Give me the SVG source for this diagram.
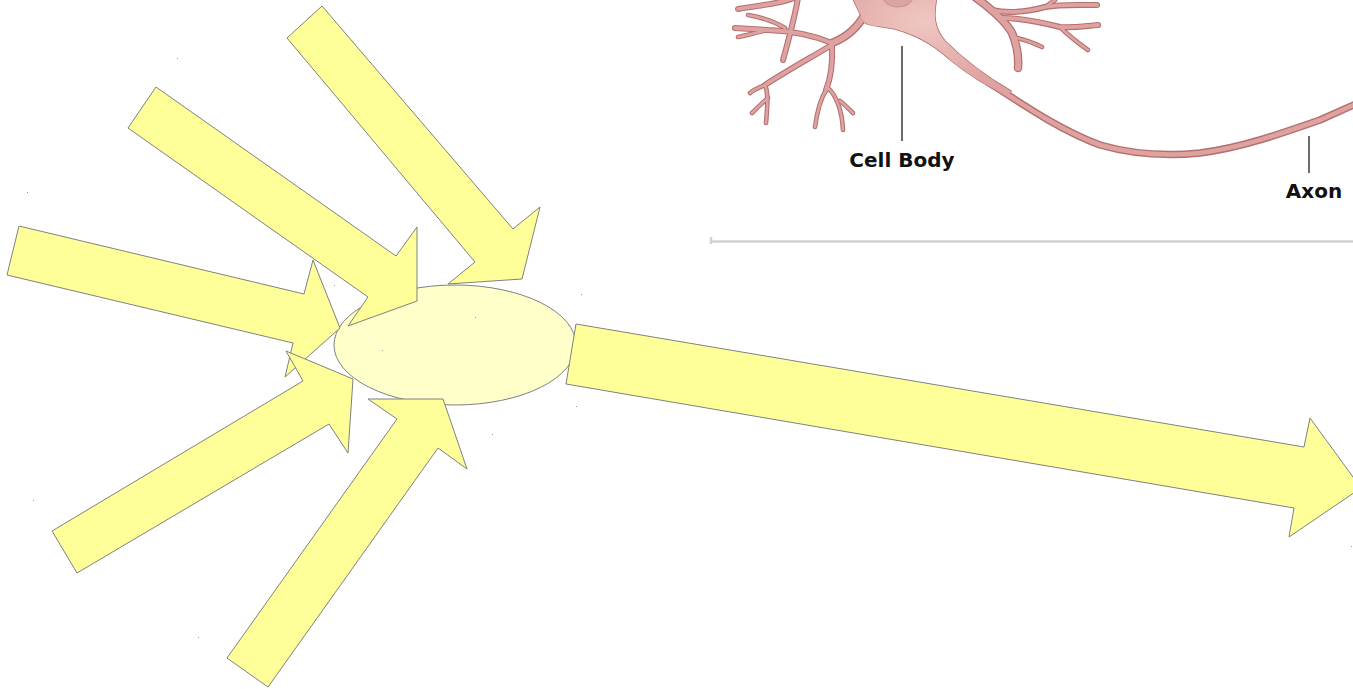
<svg xmlns="http://www.w3.org/2000/svg" xmlns:xlink="http://www.w3.org/1999/xlink" width="1353" height="689" viewBox="0 0 1353 689">
  <style>
    .arrow { fill: #ffff99; stroke: #808080; stroke-width: 1; stroke-linejoin: miter; }
    .soma { fill: #ffffc9; stroke: #808080; stroke-width: 1; }
    .speck { fill: #9a9a9a; }
    .lbl { font-family: "DejaVu Sans", Verdana, sans-serif; font-weight: bold; font-size: 20px; fill: #111; text-anchor: middle; }
    .leader { stroke: #6b6b6b; stroke-width: 2; }
    .rule { stroke: #d2d2d2; stroke-width: 2.5; fill: none; }
    .nrn { fill: none; stroke-linecap: round; stroke-linejoin: round; }
  </style>
  <defs>
    <radialGradient id="somaPink" cx="0.45" cy="0.25" r="0.7">
      <stop offset="0" stop-color="#efc7c3"/>
      <stop offset="1" stop-color="#dea2a0"/>
    </radialGradient>
    <!-- neuron branch geometry, stroked twice (outline + fill) -->
    <g id="trunks">
      <path d="M866,12 C858,28 845,38 832,43"/>
      <path d="M975,-3 C990,8 1005,20 1012,33 C1017,45 1019,55 1018,68"/>
    </g>
    <g id="branches">
      <path d="M832,43 C815,36 795,31 768,30 L735,28"/>
      <path d="M798,-2 C795,15 790,35 783,60"/>
      <path d="M794,-2 C780,4 760,5 738,9"/>
      <path d="M832,45 C833,65 830,80 826,90"/>
      <path d="M830,46 C810,58 785,72 765,85"/>
      <path d="M992,10 C1010,14 1030,11 1045,7 C1060,4 1080,5 1097,5"/>
      <path d="M1003,18 C1020,18 1040,22 1060,27 C1075,28 1085,26 1098,25"/>
    </g>
    <g id="twigs">
      <path d="M768,30 C758,32 748,35 738,37"/>
      <path d="M785,28 C775,22 760,17 748,15"/>
      <path d="M826,90 C820,100 817,112 815,127"/>
      <path d="M828,88 C836,95 842,110 843,130"/>
      <path d="M840,101 C845,105 849,109 853,113"/>
      <path d="M765,85 C758,88 753,90 750,93"/>
      <path d="M765,85 C768,92 768,100 766,123"/>
      <path d="M768,98 C762,103 757,108 752,113"/>
      <path d="M1045,7 L1055,0"/>
      <path d="M1060,27 C1068,35 1078,43 1088,50"/>
      <path d="M1013,37 C1022,39 1032,42 1042,47"/>
    </g>
    <path id="axonLine" d="M985,80 C1025,106 1060,130 1100,145 C1135,155 1170,156 1200,153 C1240,148 1280,134 1320,120 L1358,103"/>
    <!-- soma with a tail that narrows into the axon -->
    <path id="somaShape" d="M852,-3 L937,-3 C933,15 934,28 945,41 C960,56 985,76 1011,91 L1008,95.5 C985,86 965,72 948,58 C935,46 920,36 895,29 C880,26 868,26 864,22 C860,14 856,5 852,-3 Z"/>
  </defs>

  <rect width="1353" height="689" fill="#ffffff"/>

  <!-- neuron illustration -->
  <g id="neuron">
    <use xlink:href="#trunks" class="nrn" stroke="#b4706f" stroke-width="8.5"/>
    <use xlink:href="#branches" class="nrn" stroke="#b4706f" stroke-width="6"/>
    <use xlink:href="#twigs" class="nrn" stroke="#b4706f" stroke-width="4.6"/>
    <use xlink:href="#axonLine" class="nrn" stroke="#b4706f" stroke-width="7.5"/>
    <use xlink:href="#somaShape" fill="url(#somaPink)" stroke="#b4706f" stroke-width="1.5"/>
    <use xlink:href="#trunks" class="nrn" stroke="#dea2a1" stroke-width="6"/>
    <use xlink:href="#branches" class="nrn" stroke="#dea2a1" stroke-width="3.8"/>
    <use xlink:href="#twigs" class="nrn" stroke="#dea2a1" stroke-width="2.5"/>
    <use xlink:href="#axonLine" class="nrn" stroke="#dea2a1" stroke-width="4.6"/>
    <use xlink:href="#somaShape" fill="url(#somaPink)"/>
    <ellipse cx="898" cy="-3" rx="15" ry="10" fill="#d9a5a2" stroke="#c99190" stroke-width="1"/>
  </g>

  <g id="label-cell-body">
    <line class="leader" x1="902" y1="46" x2="902" y2="141"/>
    <text class="lbl" x="902" y="167">Cell Body</text>
  </g>
  <g id="label-axon">
    <line class="leader" x1="1309" y1="136" x2="1309" y2="173"/>
    <text class="lbl" x="1314" y="198">Axon</text>
  </g>
  <path class="rule" d="M711,237 L711,244 M711,241.5 L1353,241.5"/>

  <!-- cell body -->
  <g id="soma">
    <ellipse class="soma" cx="455" cy="345" rx="121" ry="60"/>
  </g>

  <!-- incoming and outgoing signal arrows -->
  <g id="connectors">
    <polygon id="in-1" class="arrow" points="322,6 513,229 540,207 522,279 448,284 475,262 287,38"/>
    <polygon id="in-2" class="arrow" points="156,87 396,256 417,227 417,301 348,326 368,297 128,128"/>
    <polygon id="in-3" class="arrow" points="19,226 304,294 313,260 340,328 285,377 293,343 7,275"/>
    <polygon id="in-4" class="arrow" points="52,531 303,381 286,351 353,379 348,453 329,424 77,573"/>
    <polygon id="in-5" class="arrow" points="227,658 397,419 368,399 443,399 467,469 438,448 268,687"/>
    <polygon id="out-1" class="arrow" points="576,324 1304,447 1310,418 1361,488 1289,537 1294,508 566,384"/>
  </g>

  <!-- stray anchor specks -->
  <g id="specks">
    <rect class="speck" x="177" y="58" width="1" height="1"/>
    <rect class="speck" x="27" y="192" width="1" height="1"/>
    <rect class="speck" x="33" y="500" width="1" height="1"/>
    <rect class="speck" x="198" y="637" width="1" height="1"/>
    <rect class="speck" x="581" y="294" width="1" height="1"/>
    <rect class="speck" x="576" y="406" width="1" height="1"/>
    <rect class="speck" x="492" y="434" width="1" height="1"/>
    <rect class="speck" x="475" y="317" width="1" height="1"/>
    <rect class="speck" x="382" y="350" width="1" height="1"/>
    <rect class="speck" x="334" y="285" width="1" height="1"/>
    <rect class="speck" x="1351" y="546" width="1" height="1"/>
  </g>
</svg>
